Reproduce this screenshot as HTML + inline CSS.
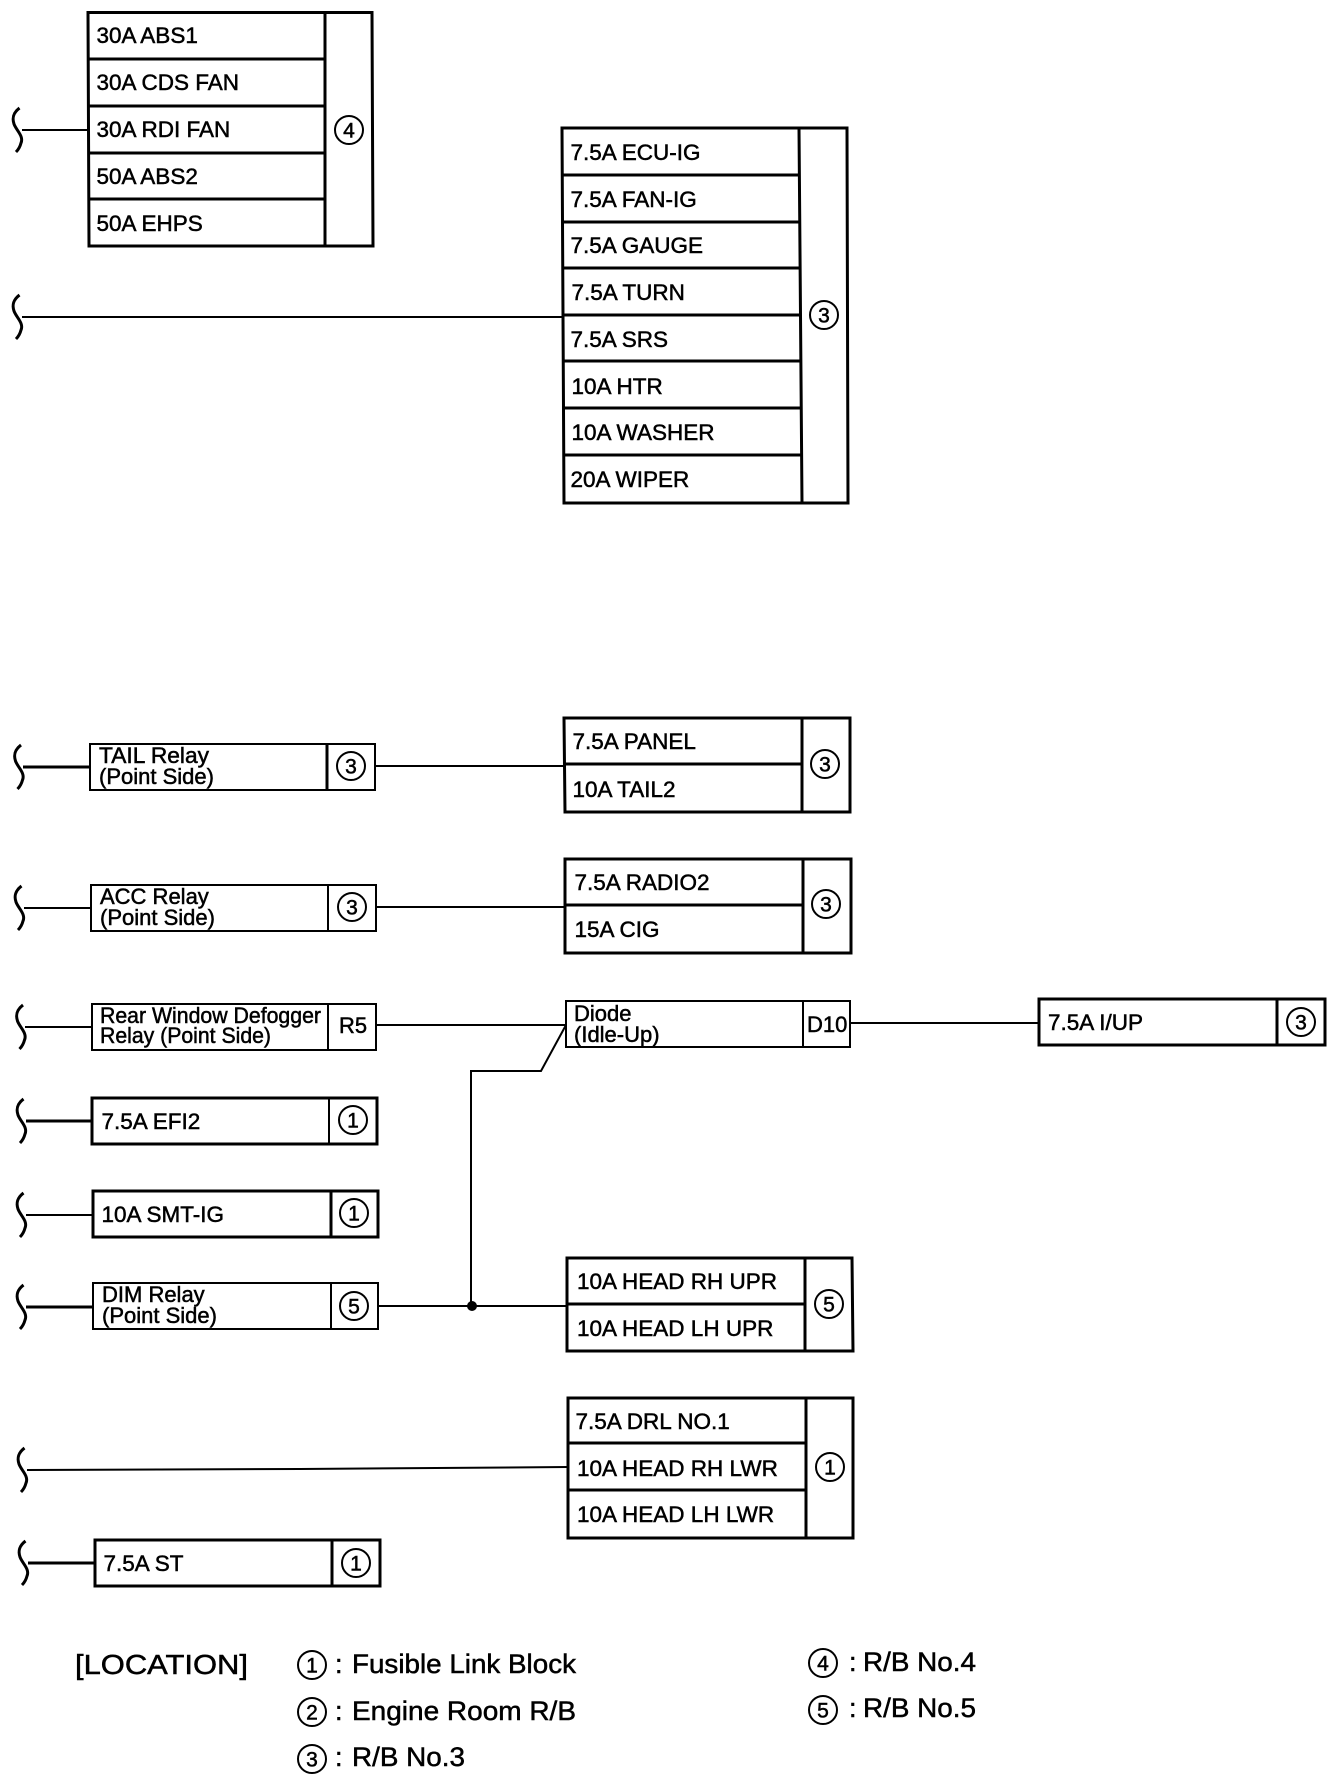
<!DOCTYPE html>
<html>
<head>
<meta charset="utf-8">
<style>
html,body{margin:0;padding:0;background:#fff}
svg{display:block}
text{font-family:"Liberation Sans",Arial,sans-serif;font-size:22.5px;fill:#000;stroke:#000;stroke-width:.5px}
.r{font-size:22px}
.n{font-size:21px;text-anchor:middle}
.l{font-size:27px}
.b{fill:none;stroke:#000;stroke-width:3}
.t{fill:none;stroke:#000;stroke-width:2}
.w{fill:none;stroke:#000;stroke-width:2}
.c{fill:none;stroke:#000;stroke-width:2}
</style>
</head>
<body>
<svg width="1344" height="1780" viewBox="0 0 1344 1780" xmlns="http://www.w3.org/2000/svg">
<defs>
<path id="br" d="M19.5,108 C13,113 12,118 14,124 C16,130 24,136 21,143 C20,147 18,150 16,152" fill="none" stroke="#000" stroke-width="3"/>
</defs>
<rect width="1344" height="1780" fill="#fff"/>

<!-- Box 1 -->
<path class="b" d="M88,12.5 H372 L373,246 H89 Z M325,12.5 V246 M88,59 H325 M88,106 H325 M89,153 H325 M89,199 H325"/>
<use href="#br"/>
<path class="w" d="M22,130 H88"/>
<text x="96.5" y="43">30A ABS1</text>
<text x="96.5" y="90">30A CDS FAN</text>
<text x="96.5" y="137">30A RDI FAN</text>
<text x="96.5" y="184">50A ABS2</text>
<text x="96.5" y="231">50A EHPS</text>
<circle class="c" cx="349" cy="130" r="14"/><text class="n" x="349" y="137.5">4</text>

<!-- Box 2 -->
<path class="b" d="M562,128 H847 L848,503 H564 Z M799,128 L802,503 M562,175 H799 M562,222 H800 M563,268 H800 M563,315 H800 M563,361 H800 M564,408 H801 M564,455 H802"/>
<use href="#br" transform="translate(0,187)"/>
<path class="w" d="M22,317 H563"/>
<text x="570.5" y="160">7.5A ECU-IG</text>
<text x="570.5" y="207">7.5A FAN-IG</text>
<text x="570.5" y="253">7.5A GAUGE</text>
<text x="571.5" y="300">7.5A TURN</text>
<text x="570.5" y="347">7.5A SRS</text>
<text x="571.5" y="394">10A HTR</text>
<text x="571.5" y="440">10A WASHER</text>
<text x="570.5" y="487">20A WIPER</text>
<circle class="c" cx="824" cy="315" r="14"/><text class="n" x="824" y="322.5">3</text>

<!-- Tail relay -->
<path class="t" d="M90,744 H375 V790 H90 Z"/><path class="b" d="M327,744 V790"/>
<use href="#br" transform="translate(1.5,637)"/>
<path class="b" d="M23,767 H90"/><path class="w" d="M375,766 H565"/>
<text class="r" x="99" y="763" textLength="110" lengthAdjust="spacingAndGlyphs">TAIL Relay</text>
<text class="r" x="99" y="784">(Point Side)</text>
<circle class="c" cx="351" cy="766" r="14"/><text class="n" x="351" y="773.5">3</text>

<!-- Panel -->
<path class="b" d="M564,718 H850 V812 H565 Z M802,718 V812 M564,764 H802"/>
<text x="572.5" y="749">7.5A PANEL</text>
<text x="572.5" y="797">10A TAIL2</text>
<circle class="c" cx="825" cy="764" r="14"/><text class="n" x="825" y="771.5">3</text>

<!-- ACC -->
<path class="t" d="M91,885 H376 V931 H91 Z M328,885 V931"/>
<use href="#br" transform="translate(2,778)"/>
<path class="w" d="M24,908 H91 M376,907 H566"/>
<text class="r" x="100" y="904">ACC Relay</text>
<text class="r" x="100" y="925">(Point Side)</text>
<circle class="c" cx="352" cy="907" r="14"/><text class="n" x="352" y="914.5">3</text>

<!-- Radio -->
<path class="b" d="M565,859 H851 V953 H565 Z M803,859 V953 M565,905 H803"/>
<text x="574.5" y="890">7.5A RADIO2</text>
<text x="574.5" y="937">15A CIG</text>
<circle class="c" cx="826" cy="904" r="14"/><text class="n" x="826" y="911.5">3</text>

<!-- Rear window -->
<path class="t" d="M92,1004 H376 V1050 H92 Z M328,1004 V1050"/>
<use href="#br" transform="translate(3.5,897)"/>
<path class="w" d="M25,1027 H92 M376,1025 H566"/>
<text class="r" x="100" y="1023" textLength="221" lengthAdjust="spacingAndGlyphs">Rear Window Defogger</text>
<text class="r" x="100" y="1043" textLength="171" lengthAdjust="spacingAndGlyphs">Relay (Point Side)</text>
<text class="r" x="339" y="1033" textLength="28" lengthAdjust="spacingAndGlyphs">R5</text>

<!-- Diode -->
<path class="t" d="M566,1001 H850 V1047 H566 Z M803,1001 V1047"/>
<text class="r" x="574" y="1021">Diode</text>
<text class="r" x="574" y="1042">(Idle-Up)</text>
<text class="r" x="807" y="1032">D10</text>
<path class="w" d="M850,1023 H1040"/>
<path class="w" d="M566,1025 L541,1071 H471 V1306"/>

<!-- I/UP -->
<path class="b" d="M1039,999 H1325 V1045 H1039 Z M1277,999 V1045"/>
<text x="1048" y="1030">7.5A I/UP</text>
<circle class="c" cx="1301" cy="1022" r="14"/><text class="n" x="1301" y="1029.5">3</text>

<!-- EFI2 -->
<path class="b" d="M92,1098 H377 V1144 H92 Z"/><path class="t" d="M329,1098 V1144"/>
<use href="#br" transform="translate(4,991)"/>
<path class="b" d="M26,1121 H92"/>
<text x="101.5" y="1129">7.5A EFI2</text>
<circle class="c" cx="353" cy="1120" r="14"/><text class="n" x="353" y="1127.5">1</text>

<!-- SMT -->
<path class="b" d="M93,1191 H378 V1237 H93 Z M331,1191 V1237"/>
<use href="#br" transform="translate(4,1085)"/>
<path class="w" d="M26,1215 H93"/>
<text x="101.5" y="1222">10A SMT-IG</text>
<circle class="c" cx="354" cy="1213" r="14"/><text class="n" x="354" y="1220.5">1</text>

<!-- DIM -->
<path class="t" d="M93,1283 H378 V1329 H93 Z M331,1283 V1329"/>
<use href="#br" transform="translate(4,1177)"/>
<path class="b" d="M26,1307 H93"/>
<path class="w" d="M378,1306 H567"/>
<circle cx="472" cy="1306" r="5" fill="#000"/>
<text class="r" x="102" y="1302">DIM Relay</text>
<text class="r" x="102" y="1323">(Point Side)</text>
<circle class="c" cx="354" cy="1306" r="14"/><text class="n" x="354" y="1313.5">5</text>

<!-- Head upper -->
<path class="b" d="M567,1258 H852 L853,1351 H567 Z M805,1258 V1351 M567,1304 H805"/>
<text x="577" y="1289">10A HEAD RH UPR</text>
<text x="577" y="1336">10A HEAD LH UPR</text>
<circle class="c" cx="829" cy="1304" r="14"/><text class="n" x="829" y="1311.5">5</text>

<!-- Head lower -->
<path class="b" d="M568,1398 H853 V1538 H568 Z M806,1398 V1538 M568,1443 H806 M568,1490 H806"/>
<use href="#br" transform="translate(5,1340)"/>
<path class="w" d="M27,1470 L300,1469 L568,1467"/>
<text x="575.5" y="1429">7.5A DRL NO.1</text>
<text x="577" y="1476">10A HEAD RH LWR</text>
<text x="577" y="1522">10A HEAD LH LWR</text>
<circle class="c" cx="830" cy="1467" r="14"/><text class="n" x="830" y="1474.5">1</text>

<!-- ST -->
<path class="b" d="M95,1540 H380 V1586 H95 Z M332,1540 V1586"/>
<use href="#br" transform="translate(6,1433)"/>
<path class="b" d="M28,1563 H95"/>
<text x="103.5" y="1571">7.5A ST</text>
<circle class="c" cx="356" cy="1563" r="14"/><text class="n" x="356" y="1570.5">1</text>

<!-- Legend -->
<text x="75" y="1674" style="font-size:28px" textLength="173" lengthAdjust="spacingAndGlyphs">[LOCATION]</text>
<circle class="c" cx="312" cy="1665" r="14"/><text class="n" x="312" y="1672.5">1</text>
<text class="l" x="335" y="1673">:</text>
<text class="l" x="352" y="1673" textLength="224" lengthAdjust="spacingAndGlyphs">Fusible Link Block</text>
<circle class="c" cx="312" cy="1712" r="14"/><text class="n" x="312" y="1719.5">2</text>
<text class="l" x="335" y="1720">:</text>
<text class="l" x="352" y="1720" textLength="224" lengthAdjust="spacingAndGlyphs">Engine Room R/B</text>
<circle class="c" cx="312" cy="1759" r="14"/><text class="n" x="312" y="1766.5">3</text>
<text class="l" x="335" y="1766">:</text>
<text class="l" x="352" y="1766" textLength="113" lengthAdjust="spacingAndGlyphs">R/B No.3</text>
<circle class="c" cx="823" cy="1663" r="14"/><text class="n" x="823" y="1670.5">4</text>
<text class="l" x="849" y="1671">:</text>
<text class="l" x="863" y="1671" textLength="113" lengthAdjust="spacingAndGlyphs">R/B No.4</text>
<circle class="c" cx="823" cy="1710" r="14"/><text class="n" x="823" y="1717.5">5</text>
<text class="l" x="849" y="1717">:</text>
<text class="l" x="863" y="1717" textLength="113" lengthAdjust="spacingAndGlyphs">R/B No.5</text>
</svg>
</body>
</html>
